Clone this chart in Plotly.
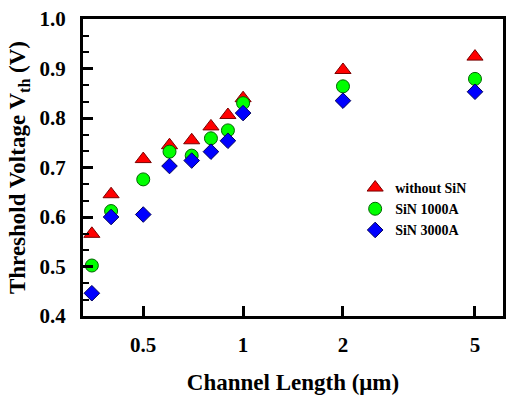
import plotly.graph_objects as go

channel_length = [0.35, 0.4, 0.5, 0.6, 0.7, 0.8, 0.9, 1.0, 2.0, 5.0]
vth_without_sin = [0.566, 0.646, 0.717, 0.745, 0.755, 0.783, 0.806, 0.840, 0.897, 0.924]
vth_sin_1000a = [0.502, 0.612, 0.676, 0.732, 0.724, 0.759, 0.775, 0.830, 0.864, 0.879]
vth_sin_3000a = [0.446, 0.600, 0.605, 0.703, 0.714, 0.732, 0.754, 0.810, 0.835, 0.853]

series_names = ["without SiN", "SiN 1000A", "SiN 3000A"]
x_tick_vals = [0.5, 1, 2, 5]
x_tick_text = ["0.5", "1", "2", "5"]
y_tick_vals = [0.4, 0.5, 0.6, 0.7, 0.8, 0.9, 1.0]
y_tick_text = ["0.4", "0.5", "0.6", "0.7", "0.8", "0.9", "1.0"]

FONT = "Liberation Serif, Times New Roman, serif"

fig = go.Figure()
styles = [
    dict(symbol="triangle-up", size=14, color="#FF0000", line=dict(color="#7a0000", width=1)),
    dict(symbol="circle", size=13, color="#00FF00", line=dict(color="#006400", width=1)),
    dict(symbol="diamond", size=12, color="#0000FF", line=dict(color="#00005a", width=1)),
]
for name, ys, st in zip(series_names, [vth_without_sin, vth_sin_1000a, vth_sin_3000a], styles):
    fig.add_trace(go.Scatter(x=channel_length, y=ys, mode="markers", name=name, marker=st))

fig.update_layout(
    width=513, height=409,
    margin=dict(l=83, r=7, t=11, b=93),
    paper_bgcolor="white", plot_bgcolor="white",
    font=dict(family=FONT, color="black"),
    showlegend=True,
    legend=dict(x=0.648, y=0.485, xanchor="left", yanchor="top",
                font=dict(family=FONT, size=14, weight="bold"),
                bgcolor="rgba(0,0,0,0)", tracegroupgap=0, itemwidth=30),
)
fig.update_xaxes(
    type="log", range=[-0.4826, 0.7834],
    tickvals=x_tick_vals, ticktext=x_tick_text,
    ticks="inside", ticklen=10, tickwidth=3, tickcolor="black",
    showline=True, linewidth=3, linecolor="black", mirror=True,
    showgrid=False, zeroline=False,
    tickfont=dict(family=FONT, size=21, weight="bold"),
    ticklabelstandoff=8, ticklabeloverflow="allow",
    title=dict(text="Channel Length (\u03bcm)", font=dict(family=FONT, size=23, weight="bold"), standoff=18),
)
fig.update_yaxes(
    range=[0.4, 1.0],
    tickvals=y_tick_vals, ticktext=y_tick_text,
    ticks="inside", ticklen=10, tickwidth=3, tickcolor="black",
    minor=dict(dtick=0.1 / 3, tick0=0.4, ticks="inside", ticklen=6, tickwidth=2, tickcolor="black"),
    showline=True, linewidth=3, linecolor="black", mirror=True,
    showgrid=False, zeroline=False,
    tickfont=dict(family=FONT, size=21, weight="bold"),
    ticklabelstandoff=10, ticklabeloverflow="allow",
    title=dict(text="Threshold Voltage V<sub>th</sub> (V)", font=dict(family=FONT, size=23, weight="bold"), standoff=8),
)

fig.write_html("out.html")
